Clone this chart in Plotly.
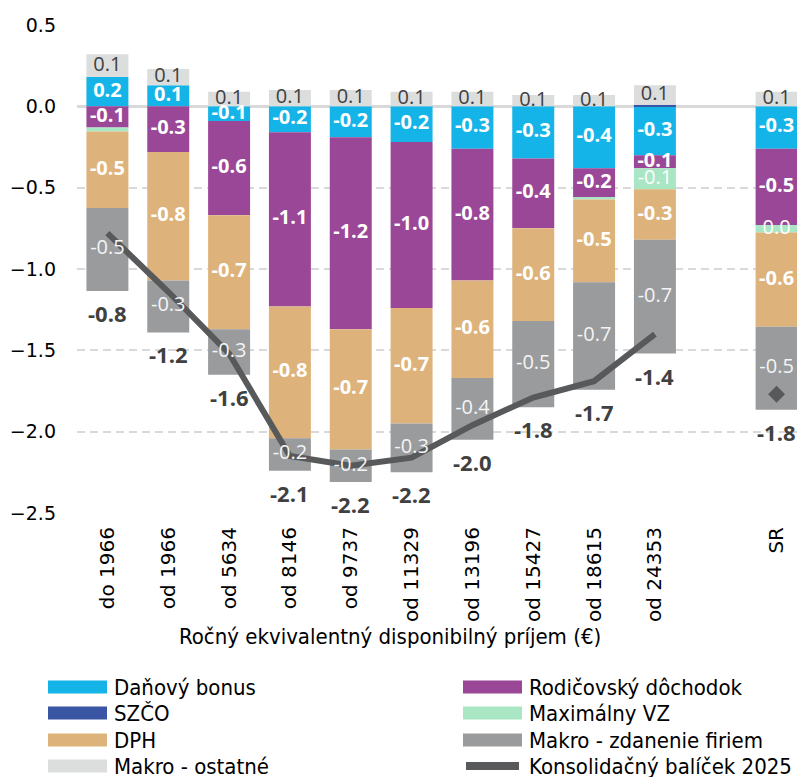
import plotly.graph_objects as go

categories = ["do 1966", "od 1966", "od 5634", "od 8146", "od 9737", "od 11329",
              "od 13196", "od 15427", "od 18615", "od 24353", " ", "SR"]

danovy_bonus = [0.18, 0.13, -0.09, -0.16, -0.19, -0.22, -0.26, -0.32, -0.38, -0.30, None, -0.26]
rodicovsky = [-0.13, -0.28, -0.58, -1.07, -1.18, -1.02, -0.81, -0.43, -0.18, -0.08, None, -0.47]
szco = [0, 0, 0, 0, 0, 0, 0, 0, 0, 0.01, None, 0]
max_vz = [-0.025, 0, 0, 0, 0, 0, 0, 0, -0.012, -0.13, None, -0.045]
dph = [-0.47, -0.79, -0.70, -0.81, -0.74, -0.71, -0.60, -0.57, -0.51, -0.31, None, -0.58]
makro_zdanenie = [-0.51, -0.32, -0.28, -0.20, -0.20, -0.30, -0.38, -0.53, -0.66, -0.70, None, -0.51]
makro_ostatne = [0.14, 0.10, 0.09, 0.10, 0.10, 0.09, 0.09, 0.07, 0.07, 0.12, None, 0.09]

totals = [-0.8, -1.2, -1.6, -2.1, -2.2, -2.2, -2.0, -1.8, -1.7, -1.4, None, -1.8]
balicek = [-0.78, -1.14, -1.52, -2.15, -2.21, -2.16, -1.96, -1.79, -1.69, -1.40, None, None]
sr_value = [None] * 11 + [-1.77]

y_ticks = [0.5, 0.0, -0.5, -1.0, -1.5, -2.0, -2.5]

C_BONUS = "#15B4E8"
C_SZCO = "#3A55A4"
C_DPH = "#DDB37B"
C_OST = "#DCDDDD"
C_ROD = "#9B4797"
C_VZ = "#A8E6C4"
C_ZDAN = "#9A9B9D"
C_LINE = "#58595B"

NUM_FONT = "Open Sans, DejaVu Sans, sans-serif"
AX_FONT = "DejaVu Sans, sans-serif"
TXT_FONT = "Liberation Sans Narrow, DejaVu Sans Condensed, sans-serif"


def fmt(vals, thr=0.0):
    out = []
    for v in vals:
        if v is None or abs(v) < thr:
            out.append("")
        else:
            s = f"{v:.1f}"
            out.append("0.0" if s == "-0.0" else s)
    return out


# series in stacking order: (name, values, colour, label colour, bold, label threshold or None)
series = [
    ("Daňový bonus", danovy_bonus, C_BONUS, "white", True, 0.0),
    ("Rodičovský dôchodok", rodicovsky, C_ROD, "white", True, 0.0),
    ("SZČO", szco, C_SZCO, "white", False, None),
    ("Maximálny VZ", max_vz, C_VZ, "white", False, 0.04),
    ("DPH", dph, C_DPH, "white", True, 0.0),
    ("Makro - zdanenie firiem", makro_zdanenie, C_ZDAN, "#F4F4F4", False, 0.0),
    ("Makro - ostatné", makro_ostatne, C_OST, "#404040", False, 0.0),
]

fig = go.Figure()

for name, vals, color, _, _, _ in series:
    fig.add_trace(go.Bar(
        x=categories, y=vals, name=name, marker=dict(color=color, line=dict(width=0)),
        showlegend=False,
    ))

fig.add_trace(go.Scatter(
    x=categories, y=balicek, mode="lines", name="Konsolidačný balíček 2025",
    line=dict(color=C_LINE, width=6), showlegend=False, connectgaps=False,
))
fig.add_trace(go.Scatter(
    x=categories, y=sr_value, mode="markers", name="SR",
    marker=dict(symbol="diamond", size=13, color=C_LINE), showlegend=False,
))

# segment labels: centres of the relative stacks, drawn on top of every bar
pos_acc = [0.0] * len(categories)
neg_acc = [0.0] * len(categories)
for name, vals, color, tcolor, bold, thr in series:
    centres = []
    for i, v in enumerate(vals):
        if v is None:
            centres.append(None)
            continue
        if v >= 0:
            centres.append(pos_acc[i] + v / 2)
            pos_acc[i] += v
        else:
            centres.append(neg_acc[i] + v / 2)
            neg_acc[i] += v
    if thr is None:
        continue
    fig.add_trace(go.Scatter(
        x=categories, y=centres, mode="text", text=fmt(vals, thr), showlegend=False,
        textposition="middle center", cliponaxis=False, hoverinfo="skip",
        textfont=dict(family=NUM_FONT, size=20, color=tcolor,
                      weight="bold" if bold else "normal"),
    ))

# total labels under each bar
for i, cat in enumerate(categories):
    if totals[i] is None:
        continue
    fig.add_annotation(x=cat, y=neg_acc[i], yref="y", text=f"{totals[i]:.1f}", showarrow=False,
                       yanchor="middle", yshift=-22,
                       font=dict(family=NUM_FONT, size=22, color="#404040", weight="bold"))

# layout geometry (pixels); page body adds an 8px offset
OFF = 8
W, H = 805, 777
L, R, T, B = 69, 6, 17, 272
pw, ph = W - L - R, H - T - B


def px_x(x):
    return (x - OFF - L) / pw


def px_y(y):
    return (H - B - (y - OFF)) / ph


# x-axis title
fig.add_annotation(x=px_x(390), y=px_y(636), xref="paper", yref="paper",
                   text="Ročný ekvivalentný disponibilný príjem (€)", showarrow=False,
                   xanchor="center", yanchor="middle",
                   font=dict(family=TXT_FONT, size=22, color="#000000"))

# manual legend
legend_items = [
    ("Daňový bonus", C_BONUS, "bar", 0, 0),
    ("SZČO", C_SZCO, "bar", 0, 1),
    ("DPH", C_DPH, "bar", 0, 2),
    ("Makro - ostatné", C_OST, "bar", 0, 3),
    ("Rodičovský dôchodok", C_ROD, "bar", 1, 0),
    ("Maximálny VZ", C_VZ, "bar", 1, 1),
    ("Makro - zdanenie firiem", C_ZDAN, "bar", 1, 2),
    ("Konsolidačný balíček 2025", C_LINE, "line", 1, 3),
]
col_x = [48, 463]
row_y = [687, 713, 740, 766]
for name, color, kind, col, row in legend_items:
    x0 = col_x[col]
    x1 = x0 + 59
    yc = row_y[row]
    if kind == "bar":
        fig.add_shape(type="rect", xref="paper", yref="paper",
                      x0=px_x(x0), x1=px_x(x1), y0=px_y(yc - 6.5), y1=px_y(yc + 6.5),
                      fillcolor=color, line=dict(width=0))
    else:
        fig.add_shape(type="line", xref="paper", yref="paper",
                      x0=px_x(x0 + 3), x1=px_x(x1 - 3), y0=px_y(yc), y1=px_y(yc),
                      line=dict(color=color, width=8))
    fig.add_annotation(x=px_x(x1 + 5), y=px_y(yc), xref="paper", yref="paper",
                       text=name, showarrow=False, xanchor="left", yanchor="middle",
                       font=dict(family=TXT_FONT, size=22, color="#000000"))

fig.update_layout(
    width=W, height=H, barmode="relative", bargap=0.31,
    margin=dict(l=L, r=R, t=T, b=B, autoexpand=False),
    plot_bgcolor="white", paper_bgcolor="white",
    showlegend=False,
    xaxis=dict(categoryorder="array", categoryarray=categories, tickangle=-90,
               range=[-0.5, len(categories) - 0.5], autorange=False,
               tickfont=dict(family=AX_FONT, size=20, color="#000000"),
               showgrid=False, showline=False, ticks="", ticklabelstandoff=9),
    yaxis=dict(range=[-2.5, 0.5], autorange=False, tickvals=y_ticks, tickformat=".1f",
               tickfont=dict(family=AX_FONT, size=19, color="#000000"),
               showgrid=True, gridcolor="#D9D9D9", gridwidth=1.5, griddash="8px,5px",
               zeroline=True, zerolinecolor="#D9D9D9", zerolinewidth=2.5,
               showline=False, ticks="", ticklabelstandoff=20),
)

fig.write_html("out.html")
